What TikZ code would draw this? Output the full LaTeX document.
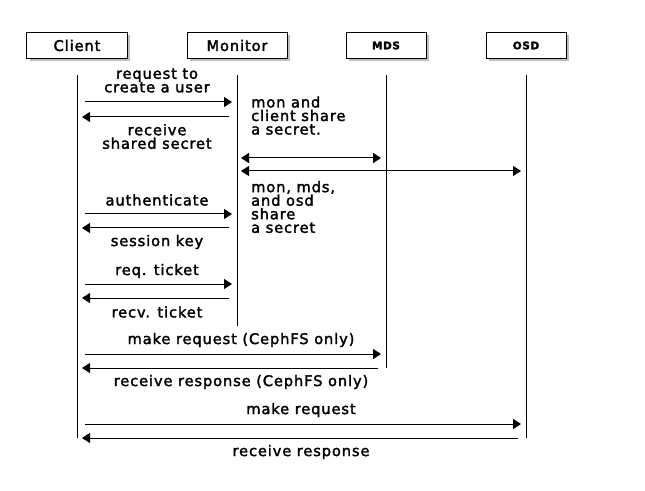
\documentclass[tikz,border=0pt]{standalone}
\usepackage{fontspec}
\setmainfont{DejaVu Sans}[LetterSpace=6, FakeBold=2]
\usetikzlibrary{arrows.meta,shadows}
\begin{document}
\begin{tikzpicture}[
        x=1bp, y=-1bp,
        every node/.style={font=\fontsize{14.7}{13.6}\selectfont, inner sep=0pt},
        actor/.style={draw, fill=white, line width=1bp, minimum width=100bp, minimum height=26bp,
            drop shadow={shadow xshift=3bp, shadow yshift=-3bp, fill=black!50}},
        smallactor/.style={actor, minimum width=80bp, font=\fontsize{10.5}{11}\selectfont\bfseries},
        lifeline/.style={line width=1bp},
        msg/.style={line width=1bp, -{Triangle[length=8bp,width=10bp]}, shorten <=8bp, shorten >=5bp},
        both/.style={msg, {Triangle[length=8bp,width=10bp]}-{Triangle[length=8bp,width=10bp]}, shorten <=4bp},
        msglabel/.style={align=center},
        notetext/.style={align=left, anchor=west},
    ]
    \fill[white] (0,0) rectangle (645,491);
    \useasboundingbox (0,0) rectangle (645,491);
    \node[actor](client) at (77,45.5){Client};
    \node[actor](monitor) at (237,45.5){Monitor};
    \node[smallactor](mds) at (386,45.5){MDS};
    \node[smallactor](osd) at (526,45.5){OSD};
    \foreach \n/\e in {client/438, monitor/326, mds/368, osd/438}
        \draw[lifeline] (\n |- 0,75) -- (\n |- 0,\e);
    \foreach \y/\a/\b in {102/client/monitor, 117/monitor/client, 214/client/monitor, 228/monitor/client,
            284/client/monitor, 298/monitor/client, 354/client/mds, 368/mds/client, 424/client/osd, 438/osd/client}
        \draw[msg] (\a |- 0,\y) -- (\b |- 0,\y);
    \draw[both] (monitor |- 0,158) -- (mds |- 0,158);
    \draw[both] (monitor |- 0,171) -- (osd |- 0,171);
    \node[msglabel](create) at (157,80.5){request to\\create a user};
    \node[msglabel](secret) at (157,136.5){receive\\shared secret};
    \node[notetext](note1) at (251,115.5){mon and\\client share\\a secret.};
    \node[notetext](note2) at (251,207){mon, mds,\\and osd\\share\\a secret};
    \node[msglabel](auth) at (157,200){authenticate};
    \node[msglabel](session) at (157,242){session key};
    \node[msglabel](req) at (157,271){req. ticket};
    \node[msglabel](recv) at (157,312){recv. ticket};
    \node[msglabel](mkfs) at (241,340){make request (CephFS only)};
    \node[msglabel](rcfs) at (241,382){receive response (CephFS only)};
    \node[msglabel](mk) at (301,410){make request};
    \node[msglabel](rc) at (301,452){receive response};
\end{tikzpicture}
\end{document}
